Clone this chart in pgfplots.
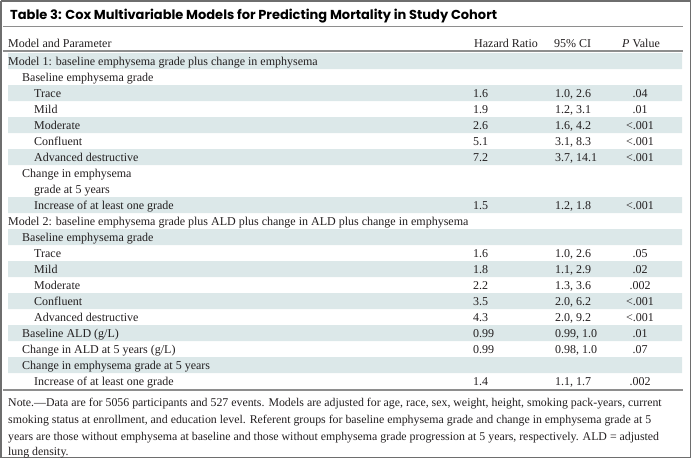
\documentclass[border=0pt]{standalone}
\usepackage{fontspec}
\setmainfont{Liberation Serif}
\newfontfamily\titlefont{Poppins}
\usepackage{pgfplots}
\pgfplotsset{compat=1.18}
\definecolor{shade}{HTML}{DCE8E9}
\definecolor{rule}{HTML}{8E8E8E}
\definecolor{frame}{HTML}{6E6E6E}
\definecolor{txt}{HTML}{231F20}
\begin{document}
\begin{tikzpicture}
\begin{axis}[hide axis, scale only axis, width=691pt, height=458pt,
  xmin=0, xmax=691, ymin=0, ymax=458, y dir=reverse, clip=false]
% shaded rows (unit rows of 16 starting at 53)
\addplot[fill=shade, draw=none] coordinates {(8,53)(682,53)(682,69)(8,69)(8,53)};
\addplot[fill=shade, draw=none] coordinates {(8,85)(682,85)(682,101)(8,101)(8,85)};
\addplot[fill=shade, draw=none] coordinates {(8,117)(682,117)(682,133)(8,133)(8,117)};
\addplot[fill=shade, draw=none] coordinates {(8,149)(682,149)(682,165)(8,165)(8,149)};
\addplot[fill=shade, draw=none] coordinates {(8,197)(682,197)(682,213)(8,213)(8,197)};
\addplot[fill=shade, draw=none] coordinates {(8,229)(682,229)(682,245)(8,245)(8,229)};
\addplot[fill=shade, draw=none] coordinates {(8,261)(682,261)(682,277)(8,277)(8,261)};
\addplot[fill=shade, draw=none] coordinates {(8,293)(682,293)(682,309)(8,309)(8,293)};
\addplot[fill=shade, draw=none] coordinates {(8,325)(682,325)(682,341)(8,341)(8,325)};
\addplot[fill=shade, draw=none] coordinates {(8,357)(682,357)(682,373)(8,373)(8,357)};
% rules
\addplot[draw=rule, line width=1pt] coordinates {(3,26.5)(683,26.5)};
\addplot[draw=rule, line width=2.2pt] coordinates {(3,51)(683,51)};
\addplot[draw=rule, line width=2.2pt] coordinates {(3,390)(683,390)};
% frame
\addplot[draw=frame, line width=1.5pt] coordinates {(0.75,0.75)(690.25,0.75)(690.25,457.25)(0.75,457.25)(0.75,0.75)};
% title
\node[anchor=base west, inner sep=0] at (axis cs:10,19.5) {\titlefont\bfseries\fontsize{13}{15}\selectfont Table 3: Cox Multivariable Models for Predicting Mortality in Study Cohort};
% body
\begin{scope}[every node/.style={inner sep=0, text=txt, font=\fontsize{12}{14}\selectfont}]
\node[anchor=base west] at (axis cs:8,47) {Model and Parameter};
\node[anchor=base west] at (axis cs:474,47) {Hazard Ratio};
\node[anchor=base west] at (axis cs:554,47) {95\% CI};
\node[anchor=base] at (axis cs:641,47) {\textit{P} Value};
% Model 1
\node[anchor=base west] at (axis cs:8,65) {Model 1: baseline emphysema grade plus change in emphysema};
\node[anchor=base west] at (axis cs:22,81) {Baseline emphysema grade};
\node[anchor=base west] at (axis cs:34,97) {Trace};
\node[anchor=base west] at (axis cs:473,97) {1.6};
\node[anchor=base west] at (axis cs:555,97) {1.0, 2.6};
\node[anchor=base] at (axis cs:640,97) {.04};
\node[anchor=base west] at (axis cs:34,113) {Mild};
\node[anchor=base west] at (axis cs:473,113) {1.9};
\node[anchor=base west] at (axis cs:555,113) {1.2, 3.1};
\node[anchor=base] at (axis cs:640,113) {.01};
\node[anchor=base west] at (axis cs:34,129) {Moderate};
\node[anchor=base west] at (axis cs:473,129) {2.6};
\node[anchor=base west] at (axis cs:555,129) {1.6, 4.2};
\node[anchor=base] at (axis cs:640,129) {<.001};
\node[anchor=base west] at (axis cs:34,145) {Confluent};
\node[anchor=base west] at (axis cs:473,145) {5.1};
\node[anchor=base west] at (axis cs:555,145) {3.1, 8.3};
\node[anchor=base] at (axis cs:640,145) {<.001};
\node[anchor=base west] at (axis cs:34,161) {Advanced destructive};
\node[anchor=base west] at (axis cs:473,161) {7.2};
\node[anchor=base west] at (axis cs:555,161) {3.7, 14.1};
\node[anchor=base] at (axis cs:640,161) {<.001};
\node[anchor=base west] at (axis cs:22,177) {Change in emphysema};
\node[anchor=base west] at (axis cs:34,193) {grade at 5 years};
\node[anchor=base west] at (axis cs:34,209) {Increase of at least one grade};
\node[anchor=base west] at (axis cs:473,209) {1.5};
\node[anchor=base west] at (axis cs:555,209) {1.2, 1.8};
\node[anchor=base] at (axis cs:640,209) {<.001};
% Model 2
\node[anchor=base west] at (axis cs:8,225) {Model 2: baseline emphysema grade plus ALD plus change in ALD plus change in emphysema};
\node[anchor=base west] at (axis cs:22,241) {Baseline emphysema grade};
\node[anchor=base west] at (axis cs:34,257) {Trace};
\node[anchor=base west] at (axis cs:473,257) {1.6};
\node[anchor=base west] at (axis cs:555,257) {1.0, 2.6};
\node[anchor=base] at (axis cs:640,257) {.05};
\node[anchor=base west] at (axis cs:34,273) {Mild};
\node[anchor=base west] at (axis cs:473,273) {1.8};
\node[anchor=base west] at (axis cs:555,273) {1.1, 2.9};
\node[anchor=base] at (axis cs:640,273) {.02};
\node[anchor=base west] at (axis cs:34,289) {Moderate};
\node[anchor=base west] at (axis cs:473,289) {2.2};
\node[anchor=base west] at (axis cs:555,289) {1.3, 3.6};
\node[anchor=base] at (axis cs:640,289) {.002};
\node[anchor=base west] at (axis cs:34,305) {Confluent};
\node[anchor=base west] at (axis cs:473,305) {3.5};
\node[anchor=base west] at (axis cs:555,305) {2.0, 6.2};
\node[anchor=base] at (axis cs:640,305) {<.001};
\node[anchor=base west] at (axis cs:34,321) {Advanced destructive};
\node[anchor=base west] at (axis cs:473,321) {4.3};
\node[anchor=base west] at (axis cs:555,321) {2.0, 9.2};
\node[anchor=base] at (axis cs:640,321) {<.001};
\node[anchor=base west] at (axis cs:22,337) {Baseline ALD (g/L)};
\node[anchor=base west] at (axis cs:473,337) {0.99};
\node[anchor=base west] at (axis cs:555,337) {0.99, 1.0};
\node[anchor=base] at (axis cs:640,337) {.01};
\node[anchor=base west] at (axis cs:22,353) {Change in ALD at 5 years (g/L)};
\node[anchor=base west] at (axis cs:473,353) {0.99};
\node[anchor=base west] at (axis cs:555,353) {0.98, 1.0};
\node[anchor=base] at (axis cs:640,353) {.07};
\node[anchor=base west] at (axis cs:22,369) {Change in emphysema grade at 5 years};
\node[anchor=base west] at (axis cs:34,385) {Increase of at least one grade};
\node[anchor=base west] at (axis cs:473,385) {1.4};
\node[anchor=base west] at (axis cs:555,385) {1.1, 1.7};
\node[anchor=base] at (axis cs:640,385) {.002};
% note
\begin{scope}[every node/.append style={font=\fontsize{11.85}{14}\selectfont}]
\node[anchor=base west] at (axis cs:8,406) {Note.—Data are for 5056 participants and 527 events. Models are adjusted for age, race, sex, weight, height, smoking pack-years, current};
\node[anchor=base west] at (axis cs:8,423) {smoking status at enrollment, and education level. Referent groups for baseline emphysema grade and change in emphysema grade at 5};
\node[anchor=base west] at (axis cs:8,440) {years are those without emphysema at baseline and those without emphysema grade progression at 5 years, respectively. ALD = adjusted};
\node[anchor=base west] at (axis cs:8,455) {lung density.};
\end{scope}
\end{scope}
\end{axis}
\end{tikzpicture}
\end{document}
